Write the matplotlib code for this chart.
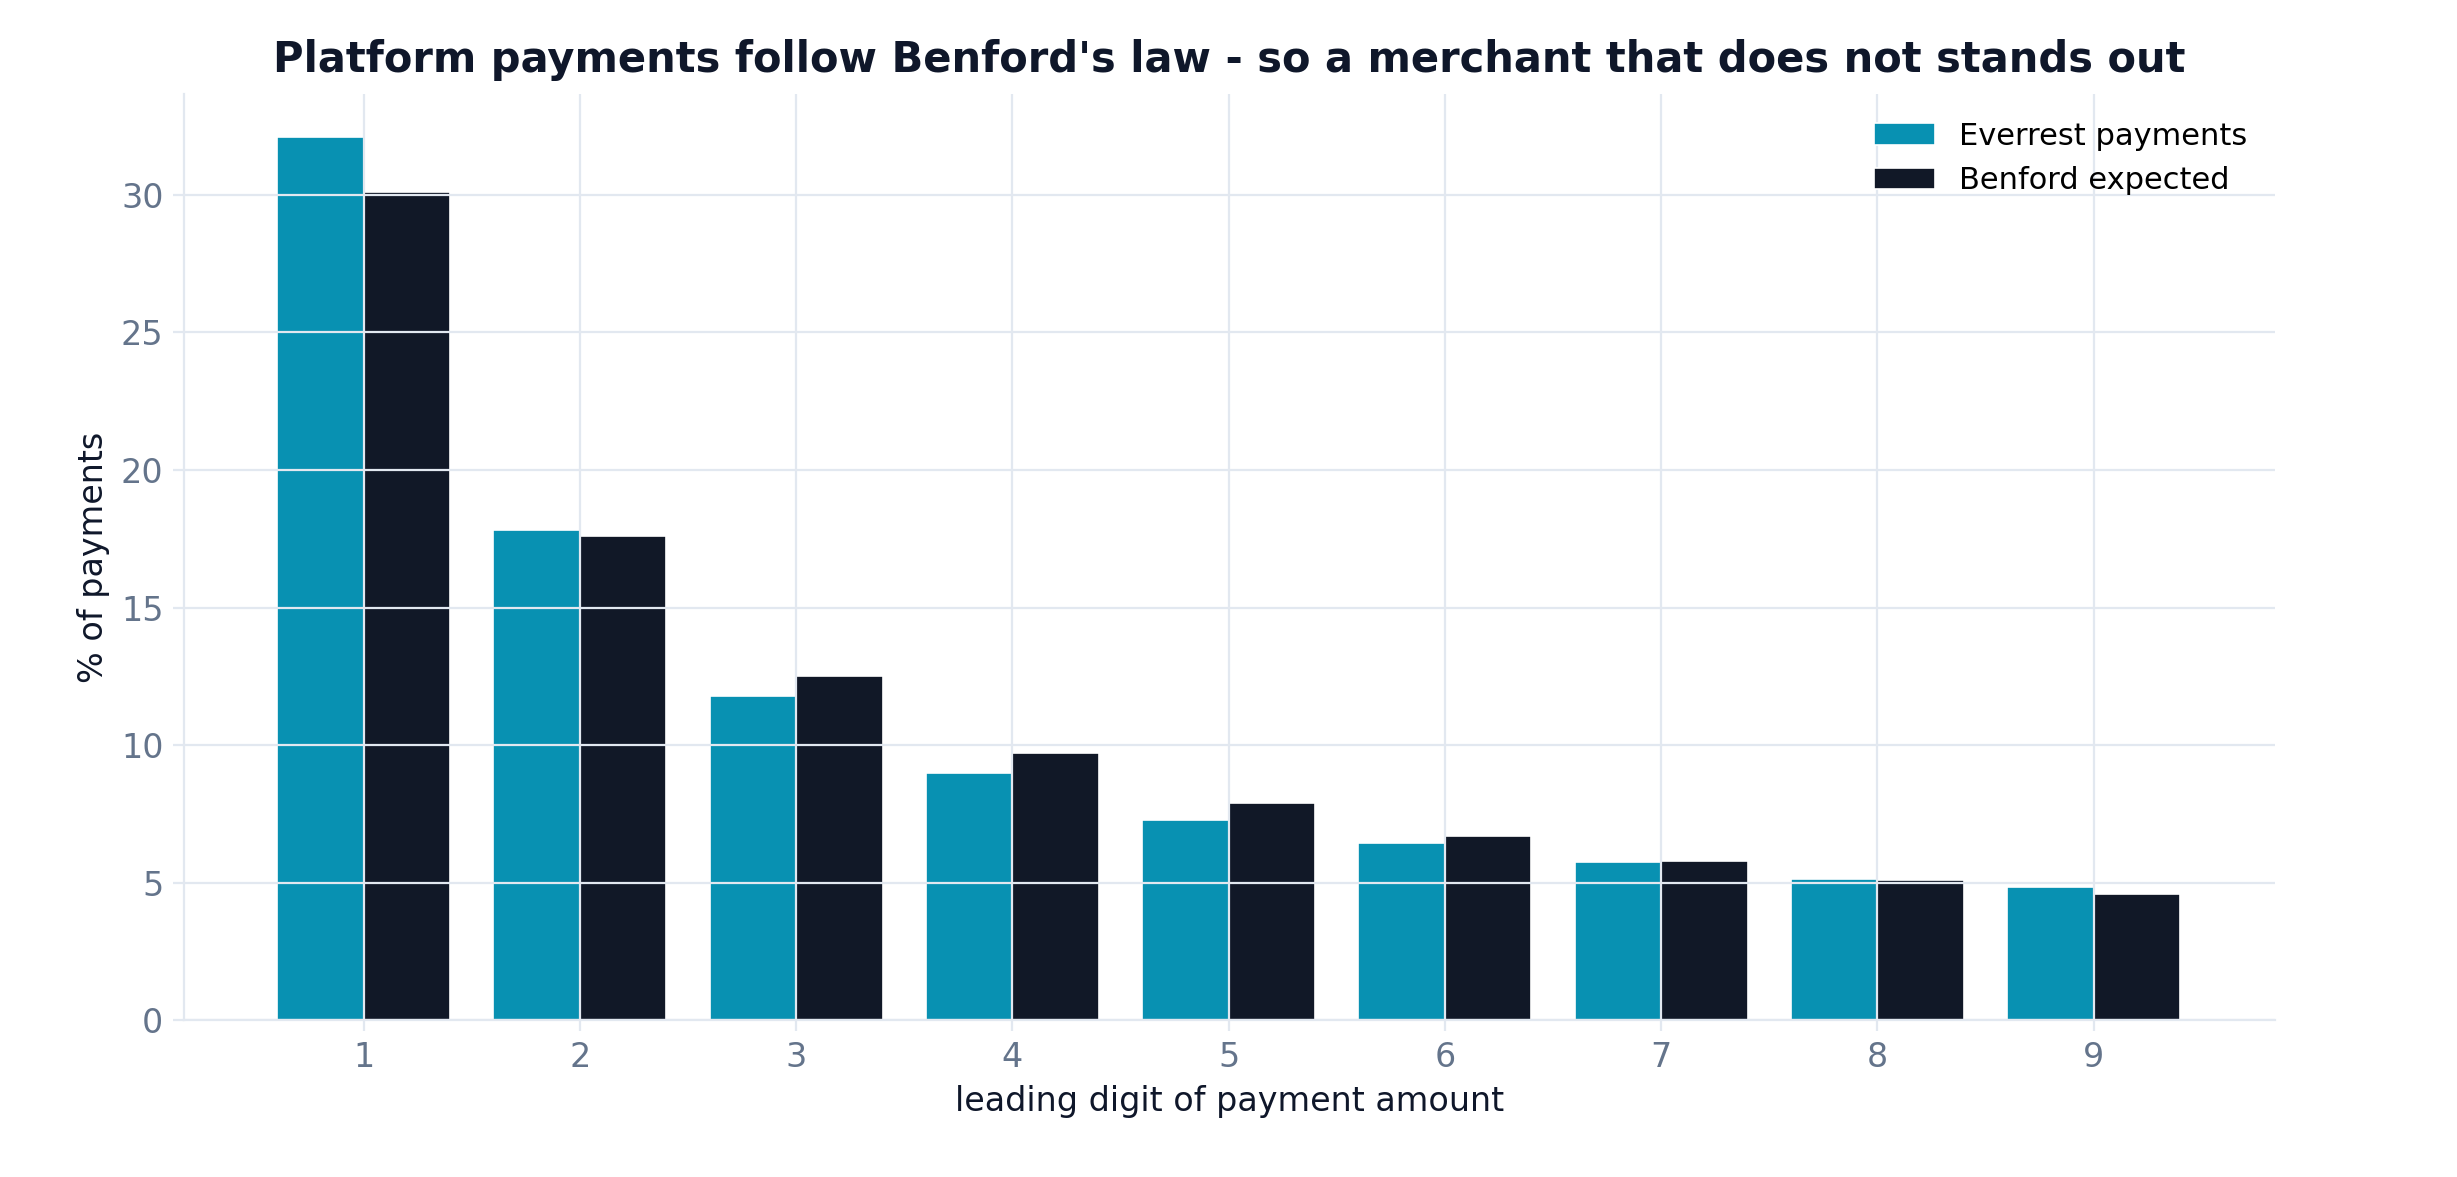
import matplotlib
matplotlib.use("Agg")
import matplotlib.pyplot as plt
import numpy as np

digits = [1, 2, 3, 4, 5, 6, 7, 8, 9]
everrest = [32.1, 17.8, 11.8, 9.0, 7.3, 6.45, 5.75, 5.15, 4.85]
benford = [30.1, 17.6, 12.5, 9.7, 7.9, 6.7, 5.8, 5.1, 4.6]

plt.rcParams['font.family'] = ['DejaVu Sans']
fig = plt.figure(figsize=(12.285, 5.885), dpi=200)
ax = fig.add_axes([0.075, 0.133, 0.851, 0.787])
x = np.array(digits)
w = 0.4
ax.bar(x - w/2, everrest, w, color='#0891b2', edgecolor='white', linewidth=0.6, label='Everrest payments', zorder=2)
ax.bar(x + w/2, benford, w, color='#111827', edgecolor='white', linewidth=0.6, label='Benford expected', zorder=2)
ax.set_axisbelow(False)
ax.grid(True, color='#e2e8f0', linewidth=0.8, zorder=3)
ax.set_xlim(0.17, 9.84)
ax.set_ylim(0, 33.65)
ax.set_xticks(digits)
ax.set_yticks([0, 5, 10, 15, 20, 25, 30])
ax.tick_params(colors='#64748b', labelsize=12, length=4)
ax.tick_params(axis='both', color='#e2e8f0')
for s in ['top', 'right']:
    ax.spines[s].set_visible(False)
for s in ['left', 'bottom']:
    ax.spines[s].set_color('#e2e8f0')
ax.set_xlabel('leading digit of payment amount', fontsize=12, color='#0f172a')
ax.set_ylabel('% of payments', fontsize=12, color='#0f172a')
ax.set_title("Platform payments follow Benford's law - so a merchant that does not stands out",
             fontsize=15, fontweight='bold', color='#0f172a', pad=8)
ax.legend(frameon=False, fontsize=11, loc='upper right')
fig.savefig('out.png', dpi=200)
